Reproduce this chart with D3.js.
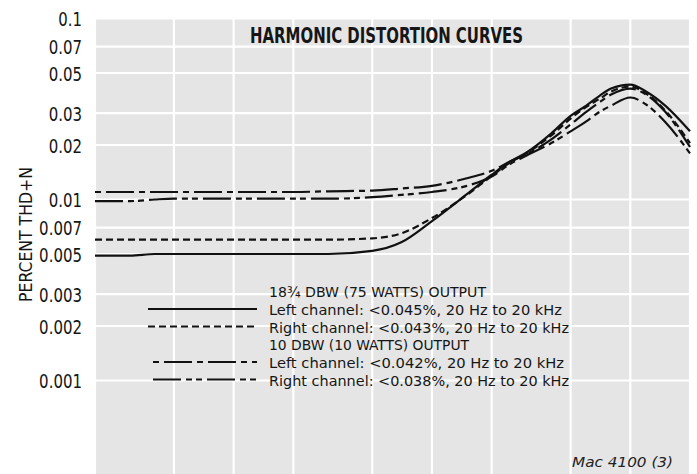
<!DOCTYPE html>
<html>
<head>
<meta charset="utf-8">
<script src="https://cdn.jsdelivr.net/npm/d3@7/dist/d3.min.js"></script>
<style>
    body { margin: 0; background: #fff; }
    .tick text, .label { font-family: "Liberation Sans Narrow", "DejaVu Sans Condensed", "Arial Narrow", sans-serif; fill: #161616; }
    .title { font-family: "Liberation Sans Narrow", "DejaVu Sans Condensed", sans-serif; font-weight: bold; fill: #161616; }
    .note { font-family: "DejaVu Sans", Verdana, sans-serif; font-style: italic; fill: #222; }
</style>
</head>
<body>
<script>
//wrap everything in a self-executing anonymous function
(function(){

//frequency points (Hz)
var freqs = [20, 30, 40, 50, 70, 100, 150, 200, 300, 500, 700, 1000, 1500, 2000, 2500, 3000, 4000, 5000, 6000, 7000, 8000, 10000, 12000, 15000, 20000];

//percent THD+N, 18 3/4 DBW (75 watts)
var leftHigh  = [0.0049, 0.0049, 0.0050, 0.0050, 0.0050, 0.0050, 0.0050, 0.0050, 0.0050, 0.0052, 0.0058, 0.0076, 0.0107, 0.0137, 0.0163, 0.0182, 0.0232, 0.0290, 0.0330, 0.0374, 0.0410, 0.0431, 0.0395, 0.0330, 0.0238];
var rightHigh = [0.0060, 0.0060, 0.0060, 0.0060, 0.0060, 0.0060, 0.0060, 0.0060, 0.0060, 0.0061, 0.0065, 0.0079, 0.0106, 0.0135, 0.0161, 0.0180, 0.0226, 0.0280, 0.0325, 0.0360, 0.0395, 0.0420, 0.0385, 0.0310, 0.0205];
//percent THD+N, 10 DBW (10 watts)
var leftLow   = [0.0110, 0.0110, 0.0110, 0.0110, 0.0110, 0.0110, 0.0110, 0.0110, 0.0111, 0.0112, 0.0115, 0.0119, 0.0131, 0.0144, 0.0163, 0.0178, 0.0215, 0.0260, 0.0305, 0.0345, 0.0380, 0.0410, 0.0380, 0.0305, 0.0195];
var rightLow  = [0.0098, 0.0098, 0.0100, 0.0101, 0.0101, 0.0101, 0.0101, 0.0101, 0.0101, 0.0103, 0.0106, 0.0110, 0.0119, 0.0134, 0.0158, 0.0175, 0.0205, 0.0238, 0.0270, 0.0305, 0.0330, 0.0366, 0.0335, 0.0268, 0.0180];

//axis ticks and grid
var yTicks = [0.1, 0.07, 0.05, 0.03, 0.02, 0.01, 0.007, 0.005, 0.003, 0.002, 0.001];
var xGrid = [20, 50, 100, 200, 500, 1000, 2000, 5000, 10000, 20000];

//texts
var titleText = "HARMONIC DISTORTION CURVES";
var yLabel = "PERCENT THD+N";
var noteText = "Mac 4100 (3)";
var legendHeads = ["18\u00BE DBW (75 WATTS) OUTPUT", "10 DBW (10 WATTS) OUTPUT"];
var legendLabels = [
    "Left channel: <0.045%, 20 Hz to 20 kHz",
    "Right channel: <0.043%, 20 Hz to 20 kHz",
    "Left channel: <0.042%, 20 Hz to 20 kHz",
    "Right channel: <0.038%, 20 Hz to 20 kHz"
];

var seriesList = [leftHigh, rightHigh, leftLow, rightLow];
//line style for each series (same order)
var dashes = ["none", "7,4", "6,5,28,5", "28,5,6,4,6,5"];

window.onload = setChart();

function setChart(){
    //frame dimensions
    var width = 697,
        height = 474,
        plotLeft = 95,
        plotRight = 690,
        plotTop = 18.5;

    var svg = d3.select("body")
        .append("svg")
        .attr("width", width)
        .attr("height", height);

    //log scales for frequency and percent
    var x = d3.scaleLog()
        .domain([20, 20000])
        .range([plotLeft, plotRight]);

    var y = d3.scaleLog()
        .domain([0.1, 0.001])
        .range([plotTop, 380.5]);

    //gray chart paper
    svg.append("rect")
        .attr("x", plotLeft)
        .attr("y", plotTop)
        .attr("width", plotRight - plotLeft)
        .attr("height", height - plotTop)
        .style("fill", "#e5e5e5");

    //white grid lines
    svg.selectAll(".vgrid")
        .data(xGrid)
        .enter()
        .append("line")
        .attr("class", "vgrid")
        .attr("x1", function(d){ return x(d); })
        .attr("x2", function(d){ return x(d); })
        .attr("y1", plotTop)
        .attr("y2", height)
        .style("stroke", "#fff")
        .style("stroke-width", 2.2);

    svg.selectAll(".hgrid")
        .data(yTicks)
        .enter()
        .append("line")
        .attr("class", "hgrid")
        .attr("x1", plotLeft)
        .attr("x2", plotRight)
        .attr("y1", function(d){ return y(d); })
        .attr("y2", function(d){ return y(d); })
        .style("stroke", "#fff")
        .style("stroke-width", 2.2);

    //y axis labels only
    var yAxis = d3.axisLeft(y)
        .tickValues(yTicks)
        .tickSize(0)
        .tickPadding(13)
        .tickFormat(function(d){ return String(d); });

    var axis = svg.append("g")
        .attr("transform", "translate(" + plotLeft + ",0)")
        .call(yAxis);
    axis.select(".domain").remove();
    //squeeze the labels to the narrow face of the original
    axis.selectAll(".tick text")
        .style("font-size", "20px")
        .attr("dy", "0.36em")
        .attr("lengthAdjust", "spacingAndGlyphs")
        .attr("textLength", function(d){
            var s = String(d);
            return (s.length - 1) * 9.6 + 4.5;
        });

    //rotated axis title
    svg.append("text")
        .attr("class", "label")
        .attr("transform", "translate(32,234.5) rotate(-90)")
        .attr("text-anchor", "middle")
        .attr("textLength", 135)
        .attr("lengthAdjust", "spacingAndGlyphs")
        .style("font-size", "18px")
        .text(yLabel);

    //chart title
    svg.append("text")
        .attr("class", "title")
        .attr("x", 250)
        .attr("y", 43)
        .attr("textLength", 273)
        .attr("lengthAdjust", "spacingAndGlyphs")
        .style("font-size", "21px")
        .text(titleText);

    //curves
    var line = d3.line()
        .x(function(d, i){ return x(freqs[i]); })
        .y(function(d){ return y(d); })
        .curve(d3.curveMonotoneX);

    svg.selectAll(".curve")
        .data(seriesList)
        .enter()
        .append("path")
        .attr("class", "curve")
        .attr("d", line)
        .style("fill", "none")
        .style("stroke", "#111")
        .style("stroke-width", 2.2)
        .style("stroke-dasharray", function(d, i){ return dashes[i]; });

    //legend
    setLegend(svg);

    //figure number
    svg.append("text")
        .attr("class", "note")
        .attr("x", 572)
        .attr("y", 467)
        .attr("textLength", 101)
        .attr("lengthAdjust", "spacingAndGlyphs")
        .style("font-size", "14px")
        .text(noteText);
};

function setLegend(svg){
    var textX = 269,
        rowY = [297, 315, 332.5, 350, 368, 385.5],
        rows = [];

    //header, two entries, header, two entries
    rows.push({ text: legendHeads[0], key: -1 });
    rows.push({ text: legendLabels[0], key: 0 });
    rows.push({ text: legendLabels[1], key: 1 });
    rows.push({ text: legendHeads[1], key: -1 });
    rows.push({ text: legendLabels[2], key: 2 });
    rows.push({ text: legendLabels[3], key: 3 });

    var widths = [217, 293, 300, 200, 295, 300];

    svg.selectAll(".legendText")
        .data(rows)
        .enter()
        .append("text")
        .attr("class", "label legendText")
        .attr("x", textX)
        .attr("y", function(d, i){ return rowY[i]; })
        .attr("textLength", function(d, i){ return widths[i]; })
        .attr("lengthAdjust", "spacingAndGlyphs")
        .style("font-size", "14.5px")
        .text(function(d){ return d.text; });

    svg.selectAll(".legendLine")
        .data(rows.filter(function(d){ return d.key >= 0; }))
        .enter()
        .append("line")
        .attr("class", "legendLine")
        .attr("x1", function(d){ return d.key >= 2 ? 153 : 148; })
        .attr("x2", 257)
        .attr("y1", function(d){ return rowY[rows.indexOf(d)] - 6; })
        .attr("y2", function(d){ return rowY[rows.indexOf(d)] - 6; })
        .style("stroke", "#111")
        .style("stroke-width", 1.8)
        .style("stroke-dasharray", function(d){ return dashes[d.key]; });
};

})();
</script>
</body>
</html>
